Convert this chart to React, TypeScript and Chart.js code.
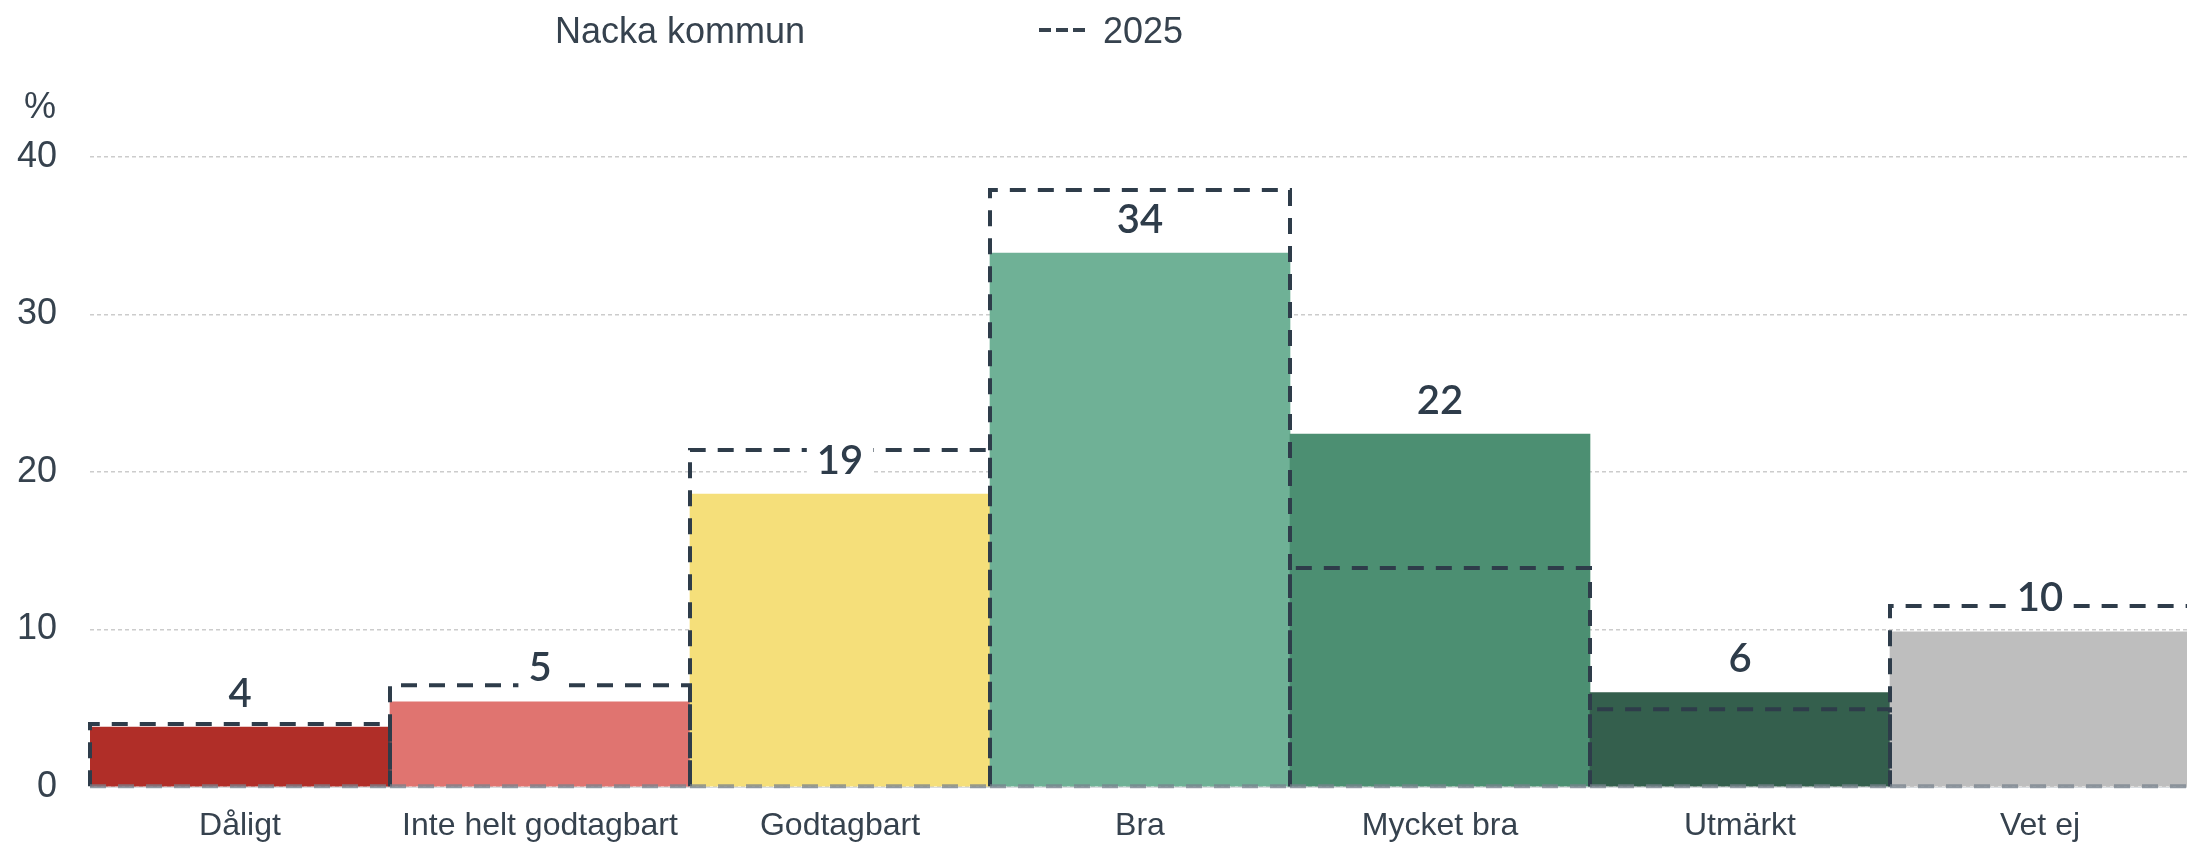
import React, { useEffect, useRef } from "react";
import { Chart, registerables } from "chart.js";

Chart.register(...registerables);

const categories = ["Dåligt", "Inte helt godtagbart", "Godtagbart", "Bra", "Mycket bra", "Utmärkt", "Vet ej"];
const nackaValues = [3.8, 5.4, 18.6, 33.9, 22.4, 6.0, 9.85];
const values2025 = [4.0, 6.46, 21.4, 37.9, 13.9, 4.93, 11.5];
const barColors = ["#b02e28", "#e07470", "#f5df7a", "#6fb196", "#4c8f72", "#345f4d", "#bebebe"];
const yTicks = [0, 10, 20, 30, 40];
const seriesNames = ["Nacka kommun", "2025"];

const TEXT = "#36424e";
const DASH_COLOR = "#2e3c4a";

const overlayPlugin = {
  id: "overlay",
  afterDatasetsDraw(chart: any) {
    const ctx = chart.ctx;
    const metaBox = chart.getDatasetMeta(1);
    ctx.save();
    ctx.lineWidth = 4;
    ctx.setLineDash([16, 12]);
    metaBox.data.forEach((el: any) => {
      const p = el.getProps(["x", "y", "base", "width"], true);
      const l = p.x - p.width / 2;
      const r = p.x + p.width / 2;
      ctx.strokeStyle = DASH_COLOR;
      ctx.beginPath();
      ctx.moveTo(l, p.base);
      ctx.lineTo(l, p.y);
      ctx.lineTo(r, p.y);
      ctx.lineTo(r, p.base);
      ctx.stroke();
      ctx.strokeStyle = "rgba(120,131,142,0.75)";
      ctx.beginPath();
      ctx.moveTo(l, p.base);
      ctx.lineTo(r, p.base);
      ctx.stroke();
    });
    ctx.restore();

    // value labels
    const meta = chart.getDatasetMeta(0);
    ctx.save();
    ctx.font = "600 40px Lato, 'Open Sans', sans-serif";
    ctx.textAlign = "center";
    ctx.textBaseline = "alphabetic";
    meta.data.forEach((el: any, i: number) => {
      const p = el.getProps(["x", "y"], true);
      const txt = String(Math.round(nackaValues[i]));
      const w = ctx.measureText(txt).width;
      const cy = p.y - 34;
      ctx.fillStyle = "#ffffff";
      ctx.fillRect(p.x - w / 2 - 10, cy - 22, w + 20, 44);
      ctx.fillStyle = DASH_COLOR;
      ctx.fillText(txt, p.x, p.y - 20.5);
    });
    ctx.restore();
  },
  afterDraw(chart: any) {
    const ctx = chart.ctx;
    ctx.save();
    ctx.fillStyle = TEXT;
    ctx.font = "36px 'Liberation Sans', Arial, sans-serif";
    ctx.textBaseline = "alphabetic";
    ctx.textAlign = "left";
    ctx.fillText(seriesNames[0], 555, 43);
    ctx.fillText(seriesNames[1], 1103, 43);
    ctx.textAlign = "right";
    ctx.fillText("%", 56, 118);
    ctx.strokeStyle = TEXT;
    ctx.lineWidth = 4;
    ctx.setLineDash([12, 5]);
    ctx.beginPath();
    ctx.moveTo(1039, 30);
    ctx.lineTo(1085, 30);
    ctx.stroke();
    ctx.restore();
  },
};

export default function App() {
  const ref = useRef<HTMLCanvasElement | null>(null);
  useEffect(() => {
    if (!ref.current) return;
    const chart = new Chart(ref.current, {
      type: "bar",
      data: {
        labels: categories,
        datasets: [
          {
            label: seriesNames[0],
            data: nackaValues,
            backgroundColor: barColors,
            borderWidth: 0,
            grouped: false,
            barPercentage: 1,
            categoryPercentage: 1,
            order: 1,
          },
          {
            label: seriesNames[1],
            data: values2025,
            backgroundColor: "rgba(0,0,0,0)",
            borderWidth: 0,
            grouped: false,
            barPercentage: 1,
            categoryPercentage: 1,
            order: 0,
          },
        ],
      },
      options: {
        animation: false,
        responsive: false,
        devicePixelRatio: 1,
        layout: { padding: { top: 157, left: 0, right: 0, bottom: 0 } },
        plugins: {
          legend: { display: false },
          tooltip: { enabled: false },
          title: { display: false },
        },
        scales: {
          x: {
            type: "category",
            grid: { display: false, drawTicks: false },
            border: { display: true, color: "#d8dce0", width: 1 },
            ticks: {
              color: TEXT,
              font: { family: "'Liberation Sans', Arial, sans-serif", size: 32 },
              padding: 20,
              maxRotation: 0,
              autoSkip: false,
            },
            afterFit: (scale: any) => {
              scale.height = 55;
            },
          },
          y: {
            min: 0,
            max: 40,
            afterBuildTicks: (scale: any) => {
              scale.ticks = yTicks.map((v) => ({ value: v }));
            },
            grid: { color: "#cccccc", lineWidth: 1.5, drawTicks: false },
            border: { display: false, dash: [4, 3] },
            ticks: {
              color: TEXT,
              font: { family: "'Liberation Sans', Arial, sans-serif", size: 36 },
              padding: 33,
            },
            afterFit: (scale: any) => {
              scale.width = 90;
            },
          },
        },
      },
      plugins: [overlayPlugin],
    } as any);
    return () => chart.destroy();
  }, []);
  return (
    <div style={{ position: "fixed", left: 0, top: 0, width: 2187, height: 842, overflow: "hidden", background: "#fff" }}>
      <canvas ref={ref} width={2190} height={842} style={{ display: "block", width: 2190, height: 842 }} />
    </div>
  );
}
